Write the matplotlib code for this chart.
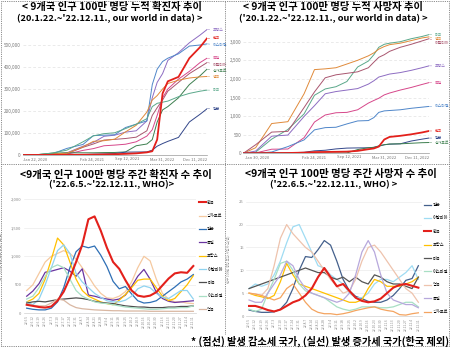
import numpy as np
import pandas as pd
import matplotlib
matplotlib.use('Agg')
import matplotlib.pyplot as plt

plt.rcParams['font.family'] = ['Noto Sans CJK KR', 'DejaVu Sans']

# ---- cumulative data (our world in data), per million ----
top_dates = pd.to_datetime(['2020-01-22', '2020-04-01', '2020-07-01', '2020-10-01', '2021-01-01',
                            '2021-03-01', '2021-05-01', '2021-07-01', '2021-09-01', '2021-11-01',
                            '2022-01-01', '2022-02-01', '2022-03-01', '2022-04-01', '2022-05-01',
                            '2022-07-01', '2022-09-01', '2022-11-01', '2022-12-11'])

cum_cases = {
    '프랑스':   [0, 0.8, 3, 10, 40, 57, 85, 90, 104, 110, 155, 260, 330, 370, 430, 465, 510, 545, 570],
    '한국':     [0, 0.2, 0.3, 0.5, 1.2, 1.8, 2.6, 3.5, 5.3, 7.5, 12, 17, 70, 280, 335, 355, 440, 490, 530],
    '이스라엘': [0, 0.7, 3, 30, 48, 88, 90, 92, 125, 140, 155, 320, 390, 425, 440, 460, 495, 500, 505],
    '독일':     [0, 0.8, 2.4, 3.5, 21, 29, 42, 45, 49, 60, 86, 115, 180, 260, 300, 345, 380, 420, 440],
    '이탈리아': [0, 1.8, 4, 5.3, 35, 50, 68, 71, 75, 81, 110, 180, 215, 250, 290, 330, 370, 400, 420],
    '싱가포르': [0, 0.2, 8, 10, 10, 10, 11, 11.5, 14, 42, 50, 70, 150, 205, 220, 260, 320, 360, 390],
    '영국':     [0, 0.5, 4.3, 8, 37, 62, 65, 72, 105, 135, 195, 250, 270, 300, 325, 340, 350, 355, 357],
    '미국':     [0, 0.6, 8, 22, 60, 87, 97, 101, 120, 140, 165, 220, 235, 240, 245, 265, 280, 290, 295],
    '일본':     [0, 0, 0.2, 0.7, 1.9, 3.5, 4.8, 6.5, 13, 13.6, 14, 22, 40, 52, 62, 80, 150, 185, 210],
}

cum_deaths = {
    '미국':     [0, 30, 380, 640, 1060, 1560, 1730, 1790, 1930, 2320, 2480, 2650, 2850, 2930, 2960, 3000, 3080, 3140, 3190],
    '영국':     [0, 150, 800, 850, 1600, 2250, 2270, 2300, 2400, 2500, 2620, 2700, 2800, 2870, 2920, 2960, 3030, 3100, 3130],
    '이탈리아': [0, 230, 570, 590, 1230, 1650, 2030, 2110, 2150, 2190, 2300, 2450, 2580, 2650, 2740, 2850, 2930, 3020, 3080],
    '프랑스':   [0, 60, 460, 490, 990, 1280, 1600, 1660, 1700, 1740, 1860, 1950, 2050, 2090, 2130, 2170, 2230, 2300, 2350],
    '독일':     [0, 10, 110, 115, 420, 840, 1030, 1090, 1100, 1170, 1350, 1420, 1480, 1570, 1620, 1700, 1770, 1850, 1900],
    '이스라엘': [0, 1, 35, 180, 360, 630, 690, 700, 790, 870, 880, 960, 1100, 1140, 1150, 1170, 1210, 1240, 1260],
    '한국':     [0, 3, 5, 8, 18, 33, 36, 40, 45, 65, 110, 130, 180, 370, 440, 470, 510, 560, 600],
    '일본':     [0, 0.5, 8, 13, 27, 66, 82, 118, 140, 145, 148, 160, 190, 230, 245, 255, 330, 380, 410],
    '싱가포르': [0, 0.7, 5, 5, 5, 5, 6, 7, 10, 100, 150, 160, 200, 230, 250, 255, 270, 285, 290],
}

top_colors = {'프랑스': '#8d6cc2', '한국': '#e3201b', '이스라엘': '#4f86c9', '독일': '#d6478a',
              '이탈리아': '#a9566f', '싱가포르': '#3d7f4f', '영국': '#e08a3a', '미국': '#5aa88a',
              '일본': '#33478a'}

# ---- weekly data (WHO), per million ----
weeks = ['6/5', '6/12', '6/19', '6/26', '7/3', '7/10', '7/17', '7/24', '7/31', '8/7', '8/14', '8/21',
         '8/28', '9/4', '9/11', '9/18', '9/25', '10/2', '10/9', '10/16', '10/23', '10/30', '11/6',
         '11/13', '11/20', '11/27', '12/4', '12/11']

wk_cases = {
    '한국':     [150, 130, 110, 100, 120, 220, 380, 620, 900, 1200, 1650, 1700, 1450, 1150, 900, 780, 580, 400, 310, 290, 310, 370, 490, 610, 700, 720, 710, 830],
    '싱가포르': [400, 500, 700, 900, 1000, 1050, 1100, 1050, 950, 800, 650, 480, 350, 270, 260, 300, 380, 550, 800, 1000, 920, 600, 350, 250, 200, 200, 180, 170],
    '일본':     [90, 70, 60, 60, 90, 200, 450, 800, 1080, 1180, 1150, 1180, 1020, 820, 560, 430, 470, 340, 220, 180, 190, 220, 300, 380, 460, 550, 600, 680],
    '독일':     [300, 390, 520, 720, 740, 770, 800, 740, 650, 780, 320, 300, 270, 250, 230, 250, 320, 470, 650, 770, 600, 370, 260, 210, 190, 200, 210, 220],
    '프랑스':   [200, 250, 350, 600, 950, 1320, 1200, 900, 600, 400, 300, 250, 200, 170, 150, 230, 330, 450, 580, 600, 600, 450, 300, 220, 260, 380, 500, 660],
    '이탈리아': [200, 150, 250, 500, 800, 1100, 1200, 1050, 700, 550, 450, 350, 280, 220, 200, 200, 230, 300, 430, 480, 450, 350, 280, 260, 330, 400, 400, 250],
    '미국':     [180, 200, 210, 200, 220, 240, 250, 260, 270, 260, 240, 210, 190, 180, 170, 150, 130, 120, 110, 110, 100, 100, 100, 110, 110, 120, 120, 130],
    '이스라엘': [250, 300, 450, 650, 800, 850, 800, 600, 400, 300, 250, 200, 180, 170, 150, 130, 110, 100, 90, 80, 70, 70, 80, 90, 90, 100, 100, 130],
    '영국':     [150, 140, 130, 130, 180, 250, 230, 150, 100, 80, 70, 60, 55, 50, 45, 45, 40, 40, 40, 40, 35, 35, 35, 35, 35, 35, 35, 35],
}
wk_cases_colors = {'한국': '#e3201b', '싱가포르': '#f5c9a0', '일본': '#2e6fb5', '독일': '#6a35a0',
                   '프랑스': '#ffc000', '이탈리아': '#8fd3f0', '미국': '#4d4d4d', '이스라엘': '#a8dfc4',
                   '영국': '#d9b7a2'}

wk_deaths = {
    '일본':     [1.3, 1.0, 0.8, 0.8, 0.9, 1.5, 3, 6, 10, 13, 12.8, 14.5, 16.5, 15.5, 12, 8, 5.5, 4.3, 3.8, 3.2, 3.0, 3.0, 3.5, 4.5, 6.0, 7.8, 8.2, 11],
    '이탈리아': [6, 7, 6.5, 7, 9, 12, 16, 19.5, 20, 17, 14, 11, 10.5, 9, 8, 7, 5, 4, 4, 5, 7, 8, 8, 7.5, 8.5, 9.5, 11, 8],
    '한국':     [2.2, 2.2, 1.8, 1.3, 1.0, 1.4, 2.2, 3.0, 3.5, 4.5, 6, 8.5, 10.5, 8.5, 6.5, 7, 5.5, 4, 3.3, 3, 3.2, 3.8, 5, 6.2, 6.8, 7, 6.6, 6.2],
    '프랑스':   [5, 4.5, 4.2, 3.8, 4.5, 7.5, 11.5, 9, 7, 6.5, 6, 5.5, 5, 4.5, 4, 3.5, 3, 3, 3.5, 6, 8, 7.5, 6.5, 6.5, 6.5, 7, 7.5, 8.5],
    '미국':     [6, 6.5, 7, 7.5, 8, 8.5, 9, 9.5, 10, 10.5, 10, 9.5, 9.5, 8.5, 8, 8.5, 7.5, 8.5, 7.5, 7, 9, 8.5, 7.5, 7, 7, 6.5, 6, 8.5],
    '이스라엘': [1.5, 1, 1.5, 5, 8, 11.5, 12, 10, 7, 5.5, 5, 4.5, 4, 3, 2, 1.5, 1.2, 1.5, 2, 2, 2, 1.8, 1.8, 2, 2.5, 3, 3, 2],
    '영국':     [5, 4.8, 4.5, 6, 11, 17, 20, 18, 16.5, 15, 14, 12, 10, 8, 6.5, 5, 5.5, 8, 12, 15, 15.5, 14, 12, 10, 8, 6, 5, 3],
    '독일':     [3.5, 3, 3, 5, 7, 9, 12, 11, 8, 6, 5, 4.5, 4, 3.5, 3, 3.5, 5, 9, 14, 16.5, 14, 9, 5, 3.5, 3, 2.5, 2.5, 1.8],
    '싱가포르': [5, 4.8, 4.5, 4, 3.5, 4, 6, 7, 5, 3, 1.5, 0.8, 0.5, 0.5, 0.3, 0.5, 0.8, 1.2, 1.5, 1.8, 2, 1.5, 1.2, 1, 0.3, 0.2, 0.5, 0.7],
}
wk_deaths_colors = {'일본': '#44608c', '이탈리아': '#9fdcf3', '한국': '#e3201b', '프랑스': '#ffc000',
                    '미국': '#555555', '이스라엘': '#a8dfc4', '영국': '#eec3ad', '독일': '#b7a8dc',
                    '싱가포르': '#f4a460'}

W, H = 450, 349
fig = plt.figure(figsize=(W / 100, H / 100), dpi=100)


def frac_axes(x0, y0, x1, y1):
    # pixel box (top-left origin) -> axes
    return fig.add_axes([x0 / W, 1 - y1 / H, (x1 - x0) / W, (y1 - y0) / H])


def spread(vals, gap):
    order = np.argsort(vals)[::-1]
    pos = np.array(vals, dtype=float)
    prev = None
    for i in order:
        if prev is not None and pos[i] > prev - gap:
            pos[i] = prev - gap
        prev = pos[i]
    return pos


def top_panel(ax, data, ymax, yticks, ylabels, tick_dates, tick_labels, gap):
    scale = 1000 if ymax > 10000 else 1
    for name, vals in data.items():
        c = top_colors[name]
        lw = 1.3 if name == '한국' else 0.7
        ax.plot(top_dates, np.array(vals) * scale, color=c, lw=lw,
                zorder=5 if name == '한국' else 3)
    ends = [v[-1] * scale for v in data.values()]
    pos = spread(ends, gap)
    for (name, vals), e, p in zip(data.items(), ends, pos):
        ax.annotate(name, xy=(top_dates[-1], e), xytext=(1.03, p),
                    textcoords=('axes fraction', 'data'), fontsize=2.8, color=top_colors[name],
                    va='center', ha='left',
                    arrowprops=dict(arrowstyle='-', color=top_colors[name], lw=0.3,
                                    shrinkA=0, shrinkB=0))
    ax.set_xlim(top_dates[0], top_dates[-1])
    ax.set_ylim(0, ymax)
    ax.set_yticks(yticks)
    ax.set_yticklabels(ylabels, fontsize=3.3, color='#777777')
    ax.set_xticks(pd.to_datetime(tick_dates))
    ax.set_xticklabels(tick_labels, fontsize=3.0, color='#777777')
    xl = ax.get_xticklabels()
    xl[0].set_ha('left')
    xl[-1].set_ha('right')
    ax.tick_params(length=0, pad=1.5)
    ax.grid(axis='y', color='#e2e2e2', lw=0.5, ls=(0, (4, 3)))
    for s in ['top', 'right', 'left']:
        ax.spines[s].set_visible(False)
    ax.spines['bottom'].set_color('#999999')
    ax.spines['bottom'].set_linewidth(0.5)


def week_panel(ax, data, colors, ymax, ystep, ylabels, ytitle):
    x = np.arange(len(weeks))
    for name, vals in data.items():
        lw = 1.5 if name == '한국' else 0.9
        ax.plot(x, vals, color=colors[name], lw=lw, label=name, zorder=5 if name == '한국' else 3)
    ax.set_xlim(-0.5, len(weeks) - 0.5)
    ax.set_ylim(0, ymax)
    ax.set_yticks(np.arange(0, ymax + 1, ystep))
    ax.set_yticklabels(ylabels, fontsize=3.0, color='#888888')
    ax.set_xticks(x)
    ax.set_xticklabels(['22.' + w.replace('/', '.') for w in weeks], fontsize=2.3,
                       rotation=90, color='#888888')
    ax.tick_params(length=0, pad=1.5)
    ax.grid(axis='y', color='#e6e6e6', lw=0.4)
    for s in ['top', 'right', 'left']:
        ax.spines[s].set_visible(False)
    ax.spines['bottom'].set_color('#d0d0d0')
    ax.spines['bottom'].set_linewidth(0.5)
    ax.set_ylabel(ytitle, fontsize=2.4, color='#999999', labelpad=6)
    ax.legend(loc='upper left', bbox_to_anchor=(1.0, 1.01), frameon=False, fontsize=3.0,
              handlelength=1.6, labelspacing=2.25, handletextpad=0.4, borderaxespad=0.2)


# panel 1: cumulative cases
ax1 = frac_axes(22.7, 27.4, 207, 155)
top_panel(ax1, cum_cases, 580000, np.arange(0, 500001, 100000),
          ['0', '100,000', '200,000', '300,000', '400,000', '500,000'],
          ['2020-01-22', '2021-02-24', '2021-09-12', '2022-03-31', '2022-12-11'],
          ['Jan 22, 2020', 'Feb 24, 2021', 'Sep 12, 2021', 'Mar 31, 2022', 'Dec 11, 2022'], 29000)

# panel 2: cumulative deaths
ax2 = frac_axes(243.3, 32.4, 429, 153.3)
top_panel(ax2, cum_deaths, 3250, np.arange(0, 3001, 500),
          ['0', '500', '1,000', '1,500', '2,000', '2,500', '3,000'],
          ['2020-01-30', '2021-02-24', '2021-09-12', '2022-03-31', '2022-12-11'],
          ['Jan 30, 2020', 'Feb 24, 2021', 'Sep 12, 2021', 'Mar 31, 2022', 'Dec 11, 2022'], 115)

# panel 3: weekly cases
ax3 = frac_axes(23.6, 199.3, 196.4, 313.3)
week_panel(ax3, wk_cases, wk_cases_colors, 2000, 500, ['0', '500', '1,000', '1,500', '2,000'],
           '인구 100만 명당 주간 확진자 수(명)')

# panel 4: weekly deaths
ax4 = frac_axes(245.9, 201.7, 421.5, 316)
week_panel(ax4, wk_deaths, wk_deaths_colors, 25, 5, ['0', '5', '10', '15', '20', '25'],
           '인구 100만 명당 주간 사망자 수(명)')

# titles
t1 = dict(fontsize=7.4, fontweight='bold', ha='center', va='center', color='black')
t2 = dict(fontsize=6.7, fontweight='bold', ha='center', va='center', color='black')
fig.text(0.250, 1 - 7 / H, '< 9개국 인구 100만 명당 누적 확진자 추이', **t1)
fig.text(0.243, 1 - 18.5 / H, "(20.1.22.~'22.12.11., our world in data) >", **t2)
fig.text(0.740, 1 - 7 / H, '< 9개국 인구 100만 명당 누적 사망자 추이', **t1)
fig.text(0.740, 1 - 18.5 / H, "('20.1.22.~'22.12.11., our world in data) >", **t2)
t3 = dict(fontsize=7.5, fontweight='bold', ha='center', va='center', color='black')
fig.text(0.258, 1 - 174.5 / H, '<9개국 인구 100만 명당 주간 확진자 수 추이', **t3)
fig.text(0.248, 1 - 185 / H, "('22.6.5.~'22.12.11., WHO)>", **t2)
fig.text(0.758, 1 - 174.5 / H, '<9개국 인구 100만 명당 주간 사망자 수 추이', **t3)
fig.text(0.742, 1 - 185 / H, "('22.6.5.~'22.12.11., WHO) >", **t2)

# footnote
fig.text(0.997, 1 - 341.5 / H, '* (점선) 발생 감소세 국가, (실선) 발생 증가세 국가(한국 제외)',
         fontsize=7.3, fontweight='bold', ha='right', va='center')

# dotted panel borders
bkw = dict(color='#666666', lw=0.6, ls=(0, (1, 1.2)), transform=fig.transFigure)
fig.add_artist(plt.Line2D([0.002, 0.998], [0.998, 0.998], **bkw))
fig.add_artist(plt.Line2D([0.002, 0.998], [1 - 164 / H, 1 - 164 / H], **bkw))
fig.add_artist(plt.Line2D([0.002, 0.998], [1 - 346 / H, 1 - 346 / H], **bkw))
fig.add_artist(plt.Line2D([0.002, 0.002], [1 - 346 / H, 0.998], **bkw))
fig.add_artist(plt.Line2D([0.998, 0.998], [1 - 346 / H, 0.998], **bkw))
fig.add_artist(plt.Line2D([225 / W, 225 / W], [1 - 334 / H, 0.998], **bkw))

fig.savefig('out.png', dpi=100)
